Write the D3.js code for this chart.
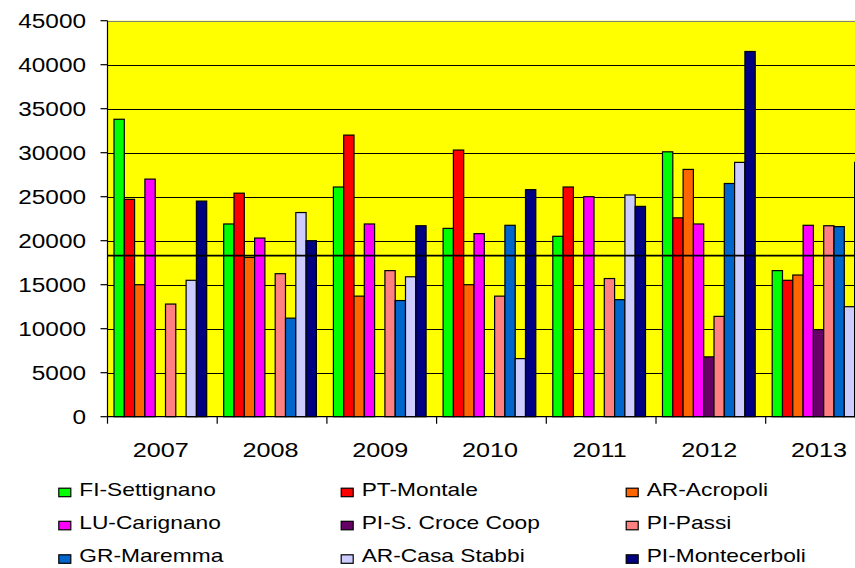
<!DOCTYPE html>
<html>
<head>
<meta charset="utf-8">
<script src="https://cdn.jsdelivr.net/npm/d3@7"></script>
<style>
  html, body { margin: 0; padding: 0; background: #ffffff; }
  svg { display: block; }
  text { font-family: "Liberation Sans", Arial, sans-serif; fill: #000; }
</style>
</head>
<body>
<svg id="chart" width="855" height="568"></svg>
<script>
// Years on the category axis
const years = ["2007", "2008", "2009", "2010", "2011", "2012", "2013"];

// Station names (series) and their fill colours
const stations = [
  "FI-Settignano", "PT-Montale", "AR-Acropoli",
  "LU-Carignano", "PI-S. Croce Coop", "PI-Passi",
  "GR-Maremma", "AR-Casa Stabbi", "PI-Montecerboli"
];
const colors = [
  "#00ff00", "#ff0000", "#ff6600",
  "#ff00ff", "#660066", "#ff8080",
  "#0066cc", "#ccccff", "#000080"
];

// Yearly values per station (null = no data that year)
const fiSettignano   = [33800, 21900, 26100, 21400, 20500, 30100, 16600];
const ptMontale      = [24700, 25400, 32000, 30300, 26100, 22600, 15500];
const arAcropoli     = [15000, 18100, 13700, 15000, null, 28100, 16100];
const luCarignano    = [27000, 20300, 21900, 20800, 25000, 21900, 21750];
const piSCroceCoop   = [null, null, null, null, null, 6800, 9900];
const piPassi        = [12800, 16250, 16600, 13700, 15700, 11400, 21700];
const grMaremma      = [null, 11200, 13200, 21750, 13300, 26500, 21600];
const arCasaStabbi   = [15500, 23200, 15900, 6600, 25200, 28900, 12500];
const piMontecerboli = [24500, 20000, 21700, 25800, 23900, 41500, 28900];

const seriesValues = [
  fiSettignano, ptMontale, arAcropoli,
  luCarignano, piSCroceCoop, piPassi,
  grMaremma, arCasaStabbi, piMontecerboli
];

// Value-axis ticks and the horizontal reference level
const yTicks = [0, 5000, 10000, 15000, 20000, 25000, 30000, 35000, 40000, 45000];
const referenceLevel = 18300;

// ---- layout ----
const svg = d3.select("#chart");
const plotLeft = 107.5, plotBottom = 416.7, plotTop = 20.7, plotRight = 855;
const groupStep = 109.7;

const x0 = d3.scaleBand()
  .domain(years)
  .range([plotLeft, plotLeft + groupStep * years.length])
  .padding(0);

const x1 = d3.scaleBand()
  .domain(stations)
  .range([0, x0.bandwidth()])
  .paddingInner(0)
  .paddingOuter(0.825);

const y = d3.scaleLinear().domain([0, 45000]).range([plotBottom, plotTop]);

// plot background
svg.append("rect")
  .attr("x", plotLeft).attr("y", plotTop)
  .attr("width", plotRight - plotLeft).attr("height", plotBottom - plotTop)
  .attr("fill", "#ffff00");

// horizontal gridlines
svg.append("g")
  .selectAll("line")
  .data(yTicks.filter(d => d > 0 && d < 45000))
  .join("line")
  .attr("x1", plotLeft).attr("x2", plotRight)
  .attr("y1", d => Math.round(y(d)) + 0.5).attr("y2", d => Math.round(y(d)) + 0.5)
  .attr("stroke", "#000").attr("stroke-width", 1);

// top border of plot
svg.append("line")
  .attr("x1", plotLeft).attr("x2", plotRight)
  .attr("y1", Math.round(y(45000)) + 0.5).attr("y2", Math.round(y(45000)) + 0.5)
  .attr("stroke", "#808080").attr("stroke-width", 1.2);

// bars
const groups = svg.append("g")
  .selectAll("g")
  .data(years)
  .join("g")
  .attr("transform", d => `translate(${x0(d) - 2},0)`);

groups.selectAll("rect")
  .data((yr, yi) => stations.map((s, si) => ({ s, si, v: seriesValues[si][yi] }))
    .filter(d => d.v != null))
  .join("rect")
  .attr("x", d => x1(d.s))
  .attr("width", x1.bandwidth())
  .attr("y", d => y(d.v))
  .attr("height", d => plotBottom - y(d.v))
  .attr("fill", d => colors[d.si])
  .attr("stroke", "#000")
  .attr("stroke-width", 1.2);

// reference level across the plot
svg.append("line")
  .attr("x1", plotLeft).attr("x2", plotRight)
  .attr("y1", y(referenceLevel)).attr("y2", y(referenceLevel))
  .attr("stroke", "#000").attr("stroke-width", 1.6);

// value axis
const yAxis = svg.append("g");
yAxis.append("line")
  .attr("x1", plotLeft).attr("x2", plotLeft)
  .attr("y1", plotTop).attr("y2", plotBottom)
  .attr("stroke", "#000").attr("stroke-width", 1.2);
yAxis.selectAll("line.tick")
  .data(yTicks)
  .join("line")
  .attr("class", "tick")
  .attr("x1", plotLeft - 7).attr("x2", plotLeft)
  .attr("y1", d => y(d)).attr("y2", d => y(d))
  .attr("stroke", "#000").attr("stroke-width", 1.2);
yAxis.selectAll("text")
  .data(yTicks)
  .join("text")
  .attr("text-anchor", "end")
  .attr("font-size", 19.5)
  .attr("transform", d => `translate(86,${y(d) + 7}) scale(1.25,1)`)
  .text(d => d);

// category axis
const xAxis = svg.append("g");
xAxis.append("line")
  .attr("x1", plotLeft).attr("x2", plotRight)
  .attr("y1", plotBottom).attr("y2", plotBottom)
  .attr("stroke", "#000").attr("stroke-width", 1.2);
xAxis.selectAll("line.tick")
  .data(years.map(d => x0(d)).concat([x0.range()[1]]))
  .join("line")
  .attr("class", "tick")
  .attr("x1", d => d).attr("x2", d => d)
  .attr("y1", plotBottom).attr("y2", plotBottom + 7)
  .attr("stroke", "#000").attr("stroke-width", 1.2);
xAxis.selectAll("text")
  .data(years)
  .join("text")
  .attr("text-anchor", "middle")
  .attr("font-size", 21)
  .attr("transform", d => `translate(${x0(d) + x0.bandwidth() / 2 - 1.5},456.5) scale(1.2,1)`)
  .text(d => d);

// legend: three columns, three rows
const legendCols = [58.3, 340.7, 625.7];
const legendRows = [495.7, 528.8, 562.3];
const legend = svg.append("g")
  .selectAll("g")
  .data(stations)
  .join("g")
  .attr("transform", (d, i) => `translate(${legendCols[i % 3]},${legendRows[Math.floor(i / 3)]})`);
legend.append("rect")
  .attr("x", 0.5).attr("y", -7.5)
  .attr("width", 12).attr("height", 8.5)
  .attr("fill", (d, i) => colors[i])
  .attr("stroke", "#000").attr("stroke-width", 1.2);
legend.append("text")
  .attr("font-size", 17.5)
  .attr("transform", `translate(21,0) scale(1.3,1)`)
  .text(d => d);
</script>
</body>
</html>
